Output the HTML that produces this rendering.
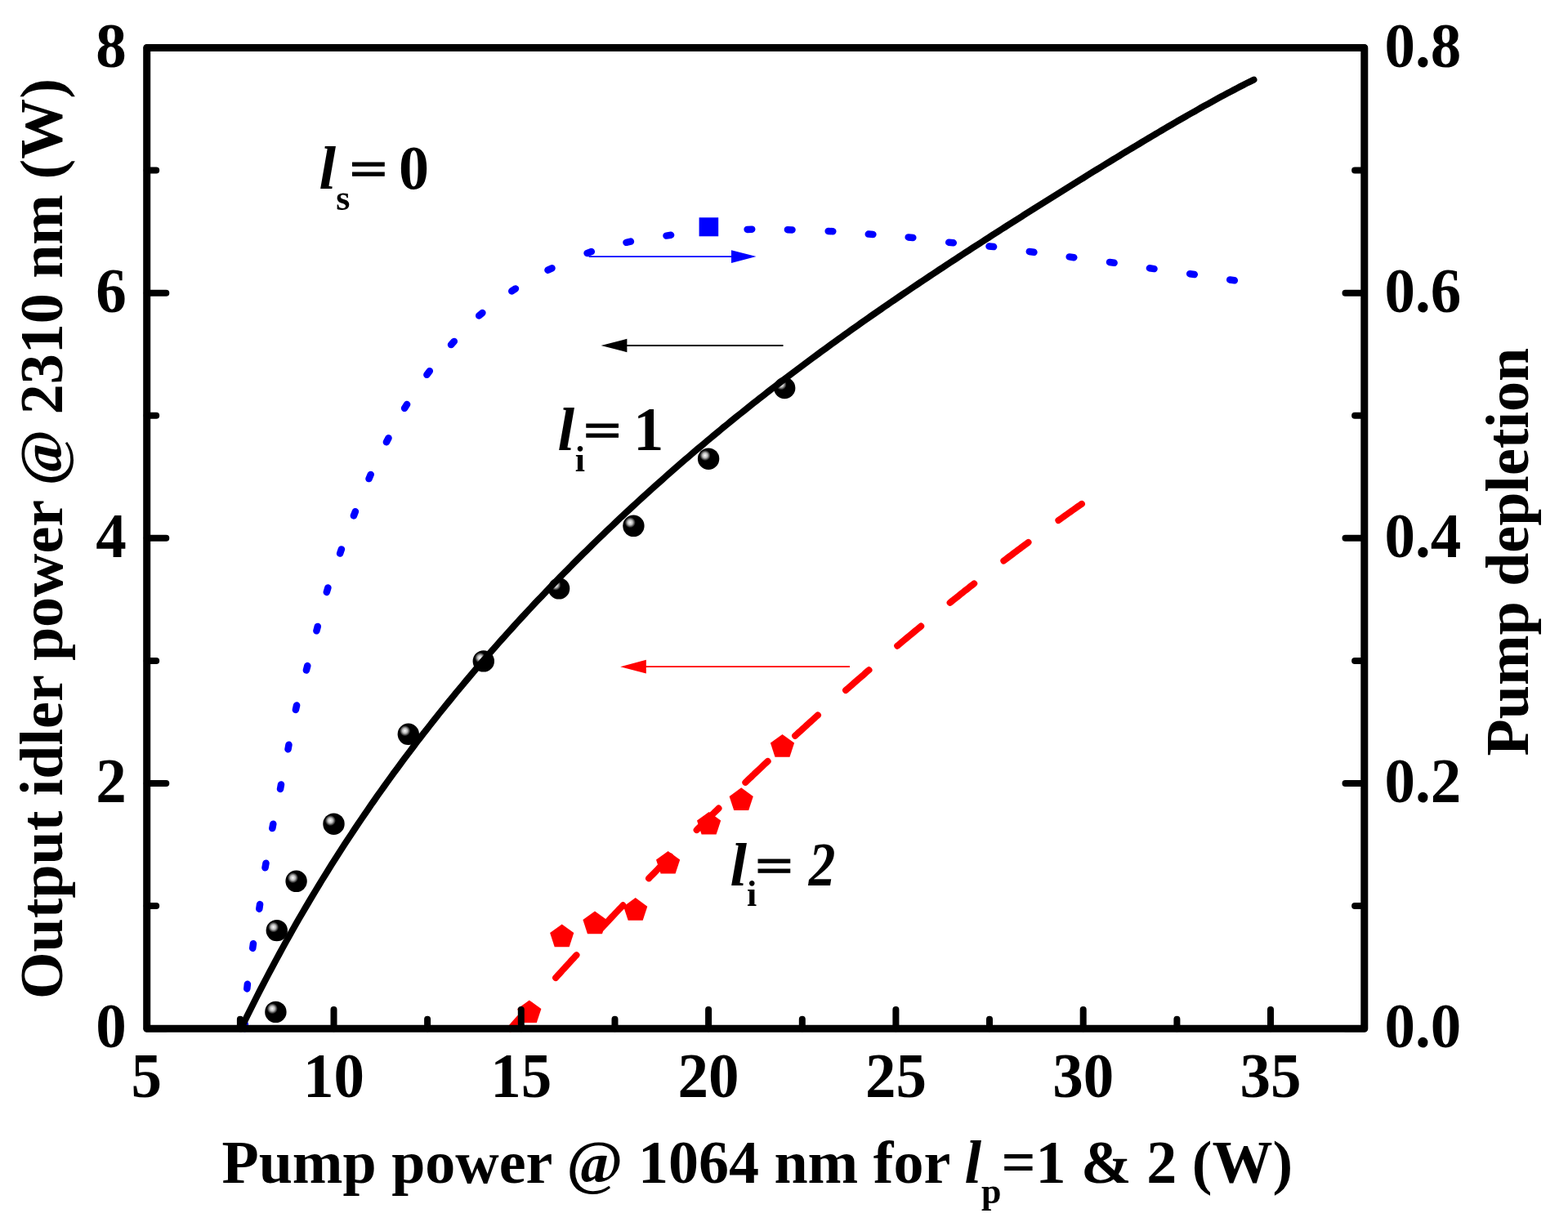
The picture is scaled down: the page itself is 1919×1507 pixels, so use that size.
<!DOCTYPE html>
<html><head><meta charset="utf-8"><title>Plot</title>
<style>html,body{margin:0;padding:0;background:#fff;overflow:hidden;}svg{display:block;}</style>
</head><body>
<svg width="1919" height="1507" viewBox="0 0 1919 1507">
<defs><radialGradient id="ball" cx="0.35" cy="0.35" r="0.65" fx="0.34" fy="0.34"><stop offset="0" stop-color="#fff"/><stop offset="0.18" stop-color="#bbb"/><stop offset="0.38" stop-color="#000"/><stop offset="1" stop-color="#000"/></radialGradient></defs>
<rect width="1919" height="1507" fill="#fff"/>
<circle cx="337.4" cy="1238.9" r="13.2" fill="url(#ball)"/>
<circle cx="338.8" cy="1139.1" r="13.2" fill="url(#ball)"/>
<circle cx="362.6" cy="1078.8" r="13.2" fill="url(#ball)"/>
<circle cx="408.5" cy="1008.7" r="13.2" fill="url(#ball)"/>
<circle cx="499.8" cy="898.8" r="13.2" fill="url(#ball)"/>
<circle cx="591.8" cy="809.4" r="13.2" fill="url(#ball)"/>
<circle cx="684.1" cy="720.4" r="13.2" fill="url(#ball)"/>
<circle cx="775.4" cy="643.8" r="13.2" fill="url(#ball)"/>
<circle cx="867.1" cy="561.7" r="13.2" fill="url(#ball)"/>
<circle cx="960.2" cy="475.0" r="13.2" fill="url(#ball)"/>
<path d="M299.4,1259.3 L299.8,1253.7 M302.3,1210.4 L302.9,1204.8 M309.2,1160.8 L310.0,1155.2 M317.3,1112.7 L318.1,1107.1 M324.5,1062.3 L325.5,1056.7 M333.3,1014.1 L334.3,1008.7 M343.0,965.9 L344.0,960.5 M352.5,917.2 L353.5,911.8 M361.9,868.9 L363.1,863.5 M374.9,820.5 L376.3,815.1 M387.4,772.3 L388.8,766.9 M399.8,724.9 L401.4,719.5 M416.1,677.6 L417.9,672.4 M432.9,631.4 L434.9,626.2 M451.5,586.1 L453.7,580.9 M472.9,541.3 L475.5,536.3 M495.1,499.8 L498.1,495.0 M522.4,458.8 L525.8,454.2 M552.0,422.1 L555.8,417.9 M586.2,386.5 L590.4,382.9 M626.3,356.4 L630.9,353.4 M670.5,330.7 L675.5,328.3 M718.6,309.9 L723.8,308.1 M766.5,296.8 L771.9,295.6 M815.5,288.6 L821.1,287.8 M865.1,283.4 L870.7,283.0 M914.6,280.9 L920.2,280.7 M963.9,281.2 L969.5,281.4 M1013.7,282.9 L1019.3,283.3 M1062.8,286.6 L1068.4,287.0 M1111.7,290.4 L1117.3,291.0 M1161.2,296.7 L1166.8,297.3 M1210.5,301.5 L1216.1,302.1 M1259.8,308.0 L1265.4,308.8 M1308.7,314.4 L1314.3,315.2 M1358.0,321.0 L1363.6,321.8 M1406.9,328.3 L1412.5,329.1 M1456.2,335.2 L1461.8,336.0 M1505.2,342.5 L1510.8,343.3" fill="none" stroke="#00f" stroke-width="8.5" stroke-linecap="round"/>
<path d="M295.4,1259.2 L298.0,1253.0 L302.0,1244.8 L306.0,1236.7 L310.0,1228.7 L314.0,1220.8 L318.0,1212.9 L322.0,1205.2 L326.0,1197.5 L330.0,1189.9 L334.0,1182.3 L338.0,1174.9 L342.0,1167.5 L346.0,1160.2 L350.0,1152.9 L354.0,1145.8 L358.0,1138.6 L362.0,1131.6 L366.0,1124.6 L370.0,1117.7 L374.0,1110.9 L378.0,1104.1 L382.0,1097.4 L386.0,1090.7 L390.0,1084.1 L394.0,1077.5 L398.0,1071.1 L402.0,1064.6 L406.0,1058.2 L410.0,1051.9 L414.0,1045.6 L418.0,1039.4 L422.0,1033.2 L426.0,1027.1 L430.0,1021.1 L434.0,1015.0 L438.0,1009.1 L442.0,1003.1 L446.0,997.2 L450.0,991.4 L454.0,985.6 L458.0,979.9 L462.0,974.1 L466.0,968.5 L470.0,962.9 L474.0,957.3 L478.0,951.7 L482.0,946.2 L486.0,940.8 L490.0,935.3 L494.0,929.9 L498.0,924.6 L502.0,919.3 L506.0,914.0 L510.0,908.7 L514.0,903.5 L518.0,898.3 L522.0,893.2 L526.0,888.1 L530.0,883.0 L534.0,878.0 L538.0,872.9 L542.0,868.0 L546.0,863.0 L550.0,858.1 L554.0,853.2 L558.0,848.3 L562.0,843.5 L566.0,838.7 L570.0,833.9 L574.0,829.1 L578.0,824.4 L582.0,819.7 L586.0,815.0 L590.0,810.4 L594.0,805.8 L598.0,801.2 L602.0,796.6 L606.0,792.1 L610.0,787.5 L614.0,783.0 L618.0,778.6 L622.0,774.1 L626.0,769.7 L630.0,765.3 L634.0,760.9 L638.0,756.5 L642.0,752.2 L646.0,747.9 L650.0,743.6 L654.0,739.3 L658.0,735.1 L662.0,730.9 L666.0,726.7 L670.0,722.5 L674.0,718.3 L678.0,714.2 L682.0,710.0 L686.0,705.9 L690.0,701.8 L694.0,697.8 L698.0,693.7 L702.0,689.7 L706.0,685.7 L710.0,681.7 L714.0,677.7 L718.0,673.8 L722.0,669.8 L726.0,665.9 L730.0,662.0 L734.0,658.2 L738.0,654.3 L742.0,650.4 L746.0,646.6 L750.0,642.8 L754.0,639.0 L758.0,635.2 L762.0,631.5 L766.0,627.7 L770.0,624.0 L774.0,620.3 L778.0,616.6 L782.0,612.9 L786.0,609.3 L790.0,605.6 L794.0,602.0 L798.0,598.4 L802.0,594.8 L806.0,591.2 L810.0,587.7 L814.0,584.1 L818.0,580.6 L822.0,577.1 L826.0,573.6 L830.0,570.1 L834.0,566.6 L838.0,563.1 L842.0,559.7 L846.0,556.3 L850.0,552.8 L854.0,549.4 L858.0,546.1 L862.0,542.7 L866.0,539.3 L870.0,536.0 L874.0,532.6 L878.0,529.3 L882.0,526.0 L886.0,522.7 L890.0,519.5 L894.0,516.2 L898.0,512.9 L902.0,509.7 L906.0,506.5 L910.0,503.3 L914.0,500.1 L918.0,496.9 L922.0,493.7 L926.0,490.6 L930.0,487.4 L934.0,484.3 L938.0,481.1 L942.0,478.0 L946.0,474.9 L950.0,471.8 L954.0,468.8 L958.0,465.7 L962.0,462.7 L966.0,459.6 L970.0,456.6 L974.0,453.6 L978.0,450.6 L982.0,447.6 L986.0,444.6 L990.0,441.6 L994.0,438.6 L998.0,435.7 L1002.0,432.7 L1006.0,429.8 L1010.0,426.9 L1014.0,424.0 L1018.0,421.1 L1022.0,418.2 L1026.0,415.3 L1030.0,412.4 L1034.0,409.5 L1038.0,406.7 L1042.0,403.8 L1046.0,401.0 L1050.0,398.2 L1054.0,395.3 L1058.0,392.5 L1062.0,389.7 L1066.0,386.9 L1070.0,384.1 L1074.0,381.4 L1078.0,378.6 L1082.0,375.8 L1086.0,373.1 L1090.0,370.3 L1094.0,367.6 L1098.0,364.9 L1102.0,362.1 L1106.0,359.4 L1110.0,356.7 L1114.0,354.0 L1118.0,351.3 L1122.0,348.6 L1126.0,345.9 L1130.0,343.2 L1134.0,340.6 L1138.0,337.9 L1142.0,335.2 L1146.0,332.6 L1150.0,329.9 L1154.0,327.3 L1158.0,324.7 L1162.0,322.0 L1166.0,319.4 L1170.0,316.8 L1174.0,314.2 L1178.0,311.5 L1182.0,308.9 L1186.0,306.3 L1190.0,303.7 L1194.0,301.1 L1198.0,298.6 L1202.0,296.0 L1206.0,293.4 L1210.0,290.8 L1214.0,288.2 L1218.0,285.7 L1222.0,283.1 L1226.0,280.5 L1230.0,278.0 L1234.0,275.4 L1238.0,272.9 L1242.0,270.3 L1246.0,267.8 L1250.0,265.3 L1254.0,262.7 L1258.0,260.2 L1262.0,257.7 L1266.0,255.1 L1270.0,252.6 L1274.0,250.1 L1278.0,247.6 L1282.0,245.1 L1286.0,242.6 L1290.0,240.1 L1294.0,237.6 L1298.0,235.1 L1302.0,232.6 L1306.0,230.1 L1310.0,227.6 L1314.0,225.1 L1318.0,222.6 L1322.0,220.1 L1326.0,217.7 L1330.0,215.2 L1334.0,212.7 L1338.0,210.2 L1342.0,207.8 L1346.0,205.3 L1350.0,202.9 L1354.0,200.4 L1358.0,198.0 L1362.0,195.5 L1366.0,193.1 L1370.0,190.7 L1374.0,188.2 L1378.0,185.8 L1382.0,183.4 L1386.0,181.0 L1390.0,178.6 L1394.0,176.2 L1398.0,173.8 L1402.0,171.4 L1406.0,169.0 L1410.0,166.6 L1414.0,164.2 L1418.0,161.9 L1422.0,159.5 L1426.0,157.1 L1430.0,154.8 L1434.0,152.5 L1438.0,150.1 L1442.0,147.8 L1446.0,145.5 L1450.0,143.2 L1454.0,140.9 L1458.0,138.6 L1462.0,136.4 L1466.0,134.1 L1470.0,131.8 L1474.0,129.6 L1478.0,127.4 L1482.0,125.2 L1486.0,123.0 L1490.0,120.8 L1494.0,118.6 L1498.0,116.5 L1502.0,114.3 L1506.0,112.2 L1510.0,110.1 L1514.0,108.0 L1518.0,105.9 L1522.0,103.9 L1526.0,101.8 L1530.0,99.8 L1534.5,97.6" fill="none" stroke="#000" stroke-width="8" stroke-linecap="round" stroke-linejoin="round"/>
<rect x="855.6" y="266.3" width="23.6" height="23" fill="#00f"/>
<path d="M624.6,1259.2 L626.9,1256.6 L629.2,1253.9 L631.6,1251.2 L633.9,1248.6 L636.3,1246.0 L638.6,1243.3 L640.9,1240.7 L643.3,1238.0 L645.6,1235.4 L648.0,1232.8 L650.3,1230.2 L652.6,1227.5 L655.0,1224.9 L657.3,1222.3 L659.7,1219.7 L662.0,1217.1 L664.3,1214.5 L666.7,1211.9 L669.0,1209.3 L671.3,1206.7 L673.7,1204.1 L676.0,1201.5 L678.4,1198.9 L680.7,1196.3 L683.0,1193.8 L685.4,1191.2 L687.7,1188.6 L690.1,1186.1 L692.4,1183.5 L694.7,1180.9 L697.1,1178.4 L699.4,1175.8 L701.8,1173.3 L704.1,1170.7 L706.4,1168.2 L708.8,1165.7 L711.1,1163.1 L713.4,1160.6 L715.8,1158.1 L718.1,1155.5 L720.5,1153.0 L722.8,1150.5 L725.1,1148.0 L727.5,1145.5 L729.8,1143.0 L732.2,1140.5 L734.5,1138.0 L736.8,1135.5 L739.2,1133.0 L741.5,1130.5 L743.9,1128.0 L746.2,1125.5 L748.5,1123.0 L750.9,1120.5 L753.2,1118.1 L755.5,1115.6 L757.9,1113.1 L760.2,1110.7 L762.6,1108.2 L764.9,1105.8 L767.2,1103.3 L769.6,1100.8 L771.9,1098.4 L774.3,1096.0 L776.6,1093.5 L778.9,1091.1 L781.3,1088.7 L783.6,1086.2 L786.0,1083.8 L788.3,1081.4 L790.6,1079.0 L793.0,1076.5 L795.3,1074.1 L797.6,1071.7 L800.0,1069.3 L802.3,1066.9 L804.7,1064.5 L807.0,1062.1 L809.3,1059.7 L811.7,1057.3 L814.0,1055.0 L816.4,1052.6 L818.7,1050.2 L821.0,1047.8 L823.4,1045.4 L825.7,1043.1 L828.1,1040.7 L830.4,1038.4 L832.7,1036.0 L835.1,1033.6 L837.4,1031.3 L839.7,1028.9 L842.1,1026.6 L844.4,1024.3 L846.8,1021.9 L849.1,1019.6 L851.4,1017.3 L853.8,1014.9 L856.1,1012.6 L858.5,1010.3 L860.8,1008.0 L863.1,1005.7 L865.5,1003.4 L867.8,1001.1 L870.2,998.7 L872.5,996.5 L874.8,994.2 L877.2,991.9 L879.5,989.6 L881.8,987.3 L884.2,985.0 L886.5,982.7 L888.9,980.5 L891.2,978.2 L893.5,975.9 L895.9,973.6 L898.2,971.4 L900.6,969.1 L902.9,966.9 L905.2,964.6 L907.6,962.4 L909.9,960.1 L912.3,957.9 L914.6,955.7 L916.9,953.4 L919.3,951.2 L921.6,949.0 L923.9,946.7 L926.3,944.5 L928.6,942.3 L931.0,940.1 L933.3,937.9 L935.6,935.7 L938.0,933.5 L940.3,931.3 L942.7,929.1 L945.0,926.9 L947.3,924.7 L949.7,922.5 L952.0,920.3 L954.4,918.1 L956.7,916.0 L959.0,913.8 L961.4,911.6 L963.7,909.5 L966.0,907.3 L968.4,905.1 L970.7,903.0 L973.1,900.8 L975.4,898.7 L977.7,896.5 L980.1,894.4 L982.4,892.3 L984.8,890.1 L987.1,888.0 L989.4,885.9 L991.8,883.7 L994.1,881.6 L996.5,879.5 L998.8,877.4 L1001.1,875.3 L1003.5,873.2 L1005.8,871.1 L1008.1,869.0 L1010.5,866.9 L1012.8,864.8 L1015.2,862.7 L1017.5,860.6 L1019.8,858.5 L1022.2,856.4 L1024.5,854.4 L1026.9,852.3 L1029.2,850.2 L1031.5,848.2 L1033.9,846.1 L1036.2,844.0 L1038.6,842.0 L1040.9,839.9 L1043.2,837.9 L1045.6,835.8 L1047.9,833.8 L1050.2,831.7 L1052.6,829.7 L1054.9,827.7 L1057.3,825.7 L1059.6,823.6 L1061.9,821.6 L1064.3,819.6 L1066.6,817.6 L1069.0,815.6 L1071.3,813.6 L1073.6,811.5 L1076.0,809.5 L1078.3,807.5 L1080.7,805.6 L1083.0,803.6 L1085.3,801.6 L1087.7,799.6 L1090.0,797.6 L1092.3,795.6 L1094.7,793.7 L1097.0,791.7 L1099.4,789.7 L1101.7,787.8 L1104.0,785.8 L1106.4,783.8 L1108.7,781.9 L1111.1,779.9 L1113.4,778.0 L1115.7,776.1 L1118.1,774.1 L1120.4,772.2 L1122.8,770.2 L1125.1,768.3 L1127.4,766.4 L1129.8,764.5 L1132.1,762.6 L1134.4,760.6 L1136.8,758.7 L1139.1,756.8 L1141.5,754.9 L1143.8,753.0 L1146.1,751.1 L1148.5,749.2 L1150.8,747.3 L1153.2,745.4 L1155.5,743.6 L1157.8,741.7 L1160.2,739.8 L1162.5,737.9 L1164.9,736.0 L1167.2,734.2 L1169.5,732.3 L1171.9,730.5 L1174.2,728.6 L1176.5,726.7 L1178.9,724.9 L1181.2,723.0 L1183.6,721.2 L1185.9,719.4 L1188.2,717.5 L1190.6,715.7 L1192.9,713.9 L1195.3,712.0 L1197.6,710.2 L1199.9,708.4 L1202.3,706.6 L1204.6,704.8 L1207.0,703.0 L1209.3,701.2 L1211.6,699.4 L1214.0,697.6 L1216.3,695.8 L1218.6,694.0 L1221.0,692.2 L1223.3,690.4 L1225.7,688.6 L1228.0,686.8 L1230.3,685.1 L1232.7,683.3 L1235.0,681.5 L1237.4,679.8 L1239.7,678.0 L1242.0,676.2 L1244.4,674.5 L1246.7,672.7 L1249.1,671.0 L1251.4,669.2 L1253.7,667.5 L1256.1,665.8 L1258.4,664.0 L1260.7,662.3 L1263.1,660.6 L1265.4,658.8 L1267.8,657.1 L1270.1,655.4 L1272.4,653.7 L1274.8,652.0 L1277.1,650.3 L1279.5,648.6 L1281.8,646.9 L1284.1,645.2 L1286.5,643.5 L1288.8,641.8 L1291.2,640.1 L1293.5,638.4 L1295.8,636.7 L1298.2,635.1 L1300.5,633.4 L1302.8,631.7 L1305.2,630.1 L1307.5,628.4 L1309.9,626.7 L1312.2,625.1 L1314.5,623.4 L1316.9,621.8 L1319.2,620.1 L1321.6,618.5 L1323.9,616.9" fill="none" stroke="#f00" stroke-width="8" stroke-linecap="round" stroke-dasharray="37.7 45.66"/>
<polygon points="647.8,1224.4 662.4,1235.0 656.8,1252.1 638.8,1252.1 633.2,1235.0" fill="#f00"/>
<polygon points="687.7,1131.5 702.3,1142.1 696.7,1159.2 678.7,1159.2 673.1,1142.1" fill="#f00"/>
<polygon points="728.0,1115.5 742.6,1126.1 737.0,1143.2 719.0,1143.2 713.4,1126.1" fill="#f00"/>
<polygon points="777.7,1099.1 792.3,1109.7 786.7,1126.8 768.7,1126.8 763.1,1109.7" fill="#f00"/>
<polygon points="817.6,1041.9 832.2,1052.5 826.6,1069.6 808.6,1069.6 803.0,1052.5" fill="#f00"/>
<polygon points="867.6,993.9 882.2,1004.5 876.6,1021.6 858.6,1021.6 853.0,1004.5" fill="#f00"/>
<polygon points="907.2,964.3 921.8,974.9 916.2,992.0 898.2,992.0 892.6,974.9" fill="#f00"/>
<polygon points="957.5,899.0 972.1,909.6 966.5,926.7 948.5,926.7 942.9,909.6" fill="#f00"/>
<line x1="720.6" y1="314.2" x2="897" y2="314.2" stroke="#00f" stroke-width="1.7"/>
<polygon points="895,306.3 925.5,314.1 895,321.9" fill="#00f"/>
<line x1="765" y1="423" x2="958.5" y2="423" stroke="#000" stroke-width="1.8"/>
<polygon points="767.4,414.8 735.6,423 767.4,431.2" fill="#000"/>
<line x1="788" y1="816.2" x2="1040" y2="816.2" stroke="#f00" stroke-width="1.8"/>
<polygon points="790.8,807.8 759.2,816.2 790.8,824.6" fill="#f00"/>
<path d="M179.7,1259.2 H203.3 M1669.8,1259.2 H1646.5 M179.7,1109.1 H191.2 M1669.8,1109.1 H1658.1 M179.7,959.0 H203.3 M1669.8,959.0 H1646.5 M179.7,808.9 H191.2 M1669.8,808.9 H1658.1 M179.7,658.8 H203.3 M1669.8,658.8 H1646.5 M179.7,508.8 H191.2 M1669.8,508.8 H1658.1 M179.7,358.7 H203.3 M1669.8,358.7 H1646.5 M179.7,208.6 H191.2 M1669.8,208.6 H1658.1 M179.7,58.5 H203.3 M1669.8,58.5 H1646.5 M293.9,1259.2 V1247.8 M408.5,1259.2 V1236.1 M523.1,1259.2 V1247.8 M637.8,1259.2 V1236.1 M752.5,1259.2 V1247.8 M867.1,1259.2 V1236.1 M981.8,1259.2 V1247.8 M1096.4,1259.2 V1236.1 M1211.0,1259.2 V1247.8 M1325.7,1259.2 V1236.1 M1440.4,1259.2 V1247.8 M1555.0,1259.2 V1236.1" stroke="#000" stroke-width="8" stroke-linecap="round" fill="none"/>
<rect x="179.7" y="58.5" width="1490.1" height="1200.7" fill="none" stroke="#000" stroke-width="9" stroke-linejoin="round"/>
<g font-family="&apos;Liberation Serif&apos;, &apos;Times New Roman&apos;, serif" font-weight="bold" font-size="75" fill="#000">
<text transform="translate(154.8,1282.2) scale(1,1.03)" text-anchor="end">0</text>
<text transform="translate(1694.6,1282.2) scale(1,1.03)">0.0</text>
<text transform="translate(154.8,982.0) scale(1,1.03)" text-anchor="end">2</text>
<text transform="translate(1694.6,982.0) scale(1,1.03)">0.2</text>
<text transform="translate(154.8,681.8) scale(1,1.03)" text-anchor="end">4</text>
<text transform="translate(1694.6,681.8) scale(1,1.03)">0.4</text>
<text transform="translate(154.8,381.7) scale(1,1.03)" text-anchor="end">6</text>
<text transform="translate(1694.6,381.7) scale(1,1.03)">0.6</text>
<text transform="translate(154.8,81.5) scale(1,1.03)" text-anchor="end">8</text>
<text transform="translate(1694.6,81.5) scale(1,1.03)">0.8</text>
<text transform="translate(179.2,1342.6) scale(1,1.03)" text-anchor="middle">5</text>
<text transform="translate(408.5,1342.6) scale(1,1.03)" text-anchor="middle">10</text>
<text transform="translate(637.8,1342.6) scale(1,1.03)" text-anchor="middle">15</text>
<text transform="translate(867.1,1342.6) scale(1,1.03)" text-anchor="middle">20</text>
<text transform="translate(1096.4,1342.6) scale(1,1.03)" text-anchor="middle">25</text>
<text transform="translate(1325.7,1342.6) scale(1,1.03)" text-anchor="middle">30</text>
<text transform="translate(1555.0,1342.6) scale(1,1.03)" text-anchor="middle">35</text>
</g>
<g font-family="&apos;Liberation Serif&apos;, &apos;Times New Roman&apos;, serif" font-weight="bold" font-size="74" fill="#000">
<text transform="translate(75.5,659.6) rotate(-90)" text-anchor="middle">Output idler power @ 2310 nm (W)</text>
<text transform="translate(1870,675.7) rotate(-90)" text-anchor="middle">Pump depletion</text>
<text x="271.5" y="1448.4">Pump power @ 1064 nm for <tspan font-style="italic">l</tspan><tspan font-size="44" dy="25">p</tspan><tspan dy="-25">=1 &amp; 2 (W)</tspan></text>
</g>
<g font-family="&apos;Liberation Serif&apos;, &apos;Times New Roman&apos;, serif" font-weight="bold" font-size="74" fill="#000">
<text x="390.4" y="231.1" font-style="italic">l</text>
<text x="411.2" y="256.6" font-size="44">s</text>
<text transform="translate(427.5,206.6) scale(1.12,0.84)" y="24.5" stroke="#000" stroke-width="1.1">=</text>
<text transform="translate(488.1,231.1) scale(1,1.04)">0</text>
<text x="682.6" y="551.2" font-style="italic">l</text>
<text x="703.8" y="576.8" font-size="44">i</text>
<text transform="translate(713.7,526.7) scale(1.12,0.84)" y="24.5" stroke="#000" stroke-width="1.1">=</text>
<text transform="translate(775.3,551.2) scale(1,1.04)">1</text>
<text x="893.4" y="1083.8" font-style="italic">l</text>
<text x="914.1" y="1109.1" font-size="44">i</text>
<text transform="translate(924.1,1059.3) scale(1.12,0.84)" y="24.5" stroke="#000" stroke-width="1.1">=</text>
<text transform="translate(989.7,1083.8) scale(0.88,1.03)" font-style="italic">2</text>
</g>
</svg>
</body></html>
